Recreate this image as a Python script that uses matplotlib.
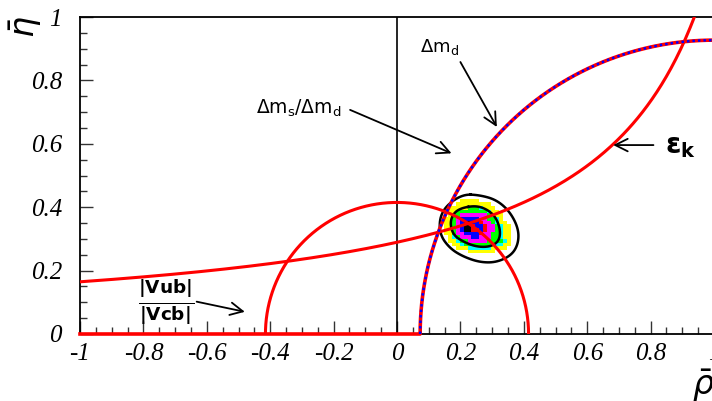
import numpy as np
import matplotlib.pyplot as plt
from matplotlib.colors import ListedColormap

# constraints in the (rho, eta) plane
vub_radius = 0.415          # |Vub|/|Vcb| circle around (0,0)
dmd_radius = 0.927          # Delta m_d circle around (1,0), blue dotted
dms_radius = 0.927          # Delta m_s/Delta m_d circle around (1,0), red
epsk_k = 0.382              # eps_K hyperbola: eta = k / (d - rho)
epsk_d = 1.32

# fit probability map (top row = highest eta)
rho_start = 0.135
eta_start = 0.254
rho_bin = 0.0125
eta_bin = 0.0115
level_rows = [
    ".....yyyyy........",
    "....yyyyyyyyy.....",
    "..yyyyygggcyyy....",
    "..yyggggggggcyy...",
    "..yggmmmmmmmgcyy..",
    ".yygmbbbbbmmggcy..",
    ".yygmbkkbbrmmgcyy.",
    ".yygmbkkrbbrmmgcyy",
    ".yygmbkkrrbrmmgcyy",
    ".yygmmbbbbrmmggcyy",
    "..ycgmmmbbmmmggcyy",
    "..yycggmmmmmggggcy",
    "...yycgggggggcccyy",
    "....yyyccccccyyyy.",
    ".......yyyyyyy....",
]
level_codes = "ycgmbrk"
level_colors = ["#ffff00", "#00ffff", "#00ff00", "#ff00ff", "#0000ff", "#ff0000", "#000000"]

# contour lines of the fit
outer_rho = [0.209, 0.262, 0.314, 0.356, 0.383, 0.383, 0.362, 0.314, 0.262, 0.209, 0.167, 0.136, 0.134, 0.157]
outer_eta = [0.441, 0.438, 0.423, 0.386, 0.333, 0.286, 0.249, 0.226, 0.226, 0.244, 0.270, 0.312, 0.365, 0.407]
inner_rho = [0.204, 0.251, 0.288, 0.314, 0.327, 0.320, 0.293, 0.251, 0.209, 0.178, 0.167, 0.178]
inner_eta = [0.398, 0.405, 0.391, 0.365, 0.323, 0.291, 0.275, 0.275, 0.291, 0.312, 0.349, 0.381]


def rounded(xs, ys, n=3):
    # corner cutting on a closed outline, for a smooth looking line
    p = np.column_stack([xs, ys])
    for _ in range(n):
        q = np.roll(p, -1, axis=0)
        p = np.column_stack([0.75 * p + 0.25 * q, 0.25 * p + 0.75 * q]).reshape(-1, 2)
    p = np.vstack([p, p[:1]])
    return p[:, 0], p[:, 1]


fig = plt.figure(figsize=(7.12, 4.01), dpi=100)
ax = fig.add_axes([80 / 712, 67 / 401, 634 / 712, 317 / 401])

# probability map
grid = np.full((len(level_rows), len(level_rows[0])), np.nan)
for i, row in enumerate(level_rows[::-1]):
    for j, ch in enumerate(row):
        if ch in level_codes:
            grid[i, j] = level_codes.index(ch)
rho_e = rho_start + rho_bin * np.arange(grid.shape[1] + 1)
eta_e = eta_start + eta_bin * np.arange(grid.shape[0] + 1)
ax.pcolormesh(rho_e, eta_e, np.ma.masked_invalid(grid), cmap=ListedColormap(level_colors),
              vmin=-0.5, vmax=6.5, zorder=1)

ax.plot(*rounded(outer_rho, outer_eta), color='black', lw=1.8, zorder=2)
ax.plot(*rounded(inner_rho, inner_eta), color='black', lw=1.8, zorder=2)

# rho = 0 line
ax.plot([0, 0], [0, 1], color='black', lw=1.2, zorder=2)

# |Vub|/|Vcb|
t = np.linspace(0, np.pi, 300)
ax.plot(vub_radius * np.cos(t), vub_radius * np.sin(t), color='red', lw=2.2, zorder=3)

# Delta m_s / Delta m_d (red) with the rho axis part, Delta m_d (blue dotted)
t = np.linspace(np.pi, np.pi / 2, 300)
xr = np.concatenate([[-1.0], 1 + dms_radius * np.cos(t)])
yr = np.concatenate([[0.0], dms_radius * np.sin(t)])
ax.plot(xr, yr, color='red', lw=2.6, zorder=3, clip_on=False)
ax.plot(1 + dmd_radius * np.cos(t), dmd_radius * np.sin(t), color='blue', lw=1.8,
        ls=(0, (1, 1.2)), zorder=4)

# eps_K
rho = np.linspace(-1, 1, 400)
ax.plot(rho, epsk_k / (epsk_d - rho), color='red', lw=2.2, zorder=3)

# annotations
arrow = dict(arrowstyle='->,head_length=0.9,head_width=0.45', lw=1.3, color='black', shrinkA=0, shrinkB=0)
ax.annotate('', xy=(0.315, 0.653), xytext=(0.2, 0.858), arrowprops=arrow)
ax.text(0.135, 0.905, r'$\Delta\mathrm{m_d}$', fontsize=13, ha='center', va='center')
ax.annotate('', xy=(0.172, 0.57), xytext=(-0.148, 0.707), arrowprops=arrow)
ax.text(-0.31, 0.712, r'$\Delta\mathrm{m_s}/\Delta\mathrm{m_d}$', fontsize=13.5, ha='center', va='center')
ax.annotate('', xy=(0.682, 0.596), xytext=(0.809, 0.596), arrowprops=arrow)
ax.text(0.893, 0.592, r'$\mathbf{\varepsilon_k}$', fontsize=20, ha='center', va='center')
ax.annotate('', xy=(-0.48, 0.07), xytext=(-0.632, 0.102), arrowprops=arrow)
ax.text(-0.73, 0.10, r'$\frac{\mathbf{|Vub|}}{\mathbf{|Vcb|}}$', fontsize=19, ha='center', va='center')

ax.set_xlim(-1, 1)
ax.set_ylim(0, 1)
ax.set_xticks(np.arange(-1, 1.01, 0.2))
ax.set_yticks(np.arange(0, 1.01, 0.2))
ax.set_xticks(np.arange(-1, 1.01, 0.05), minor=True)
ax.set_yticks(np.arange(0, 1.01, 0.05), minor=True)
ax.set_xticklabels(['-1', '-0.8', '-0.6', '-0.4', '-0.2', '0', '0.2', '0.4', '0.6', '0.8', '1'])
ax.set_yticklabels(['0', '0.2', '0.4', '0.6', '0.8', '1'])
ax.tick_params(which='both', direction='in', top=False, right=False, width=1, color='#333333')
ax.tick_params(which='major', length=9.5)
ax.tick_params(which='minor', length=4.8)
ax.tick_params(axis='x', pad=6.5)
ax.tick_params(axis='y', pad=13)
for lab in ax.get_xticklabels() + ax.get_yticklabels():
    lab.set_fontfamily('Liberation Serif')
    lab.set_fontstyle('italic')
    lab.set_fontsize(18)
for s in ax.spines.values():
    s.set_linewidth(1.3)

fig.text(26 / 712, 1 - 27 / 401, r'$\bar{\eta}$', fontsize=24, rotation=90, ha='center', va='center')
fig.text(703 / 712, 1 - 386 / 401, r'$\bar{\rho}$', fontsize=24, ha='center', va='center')

fig.savefig('out.png', dpi=100)
